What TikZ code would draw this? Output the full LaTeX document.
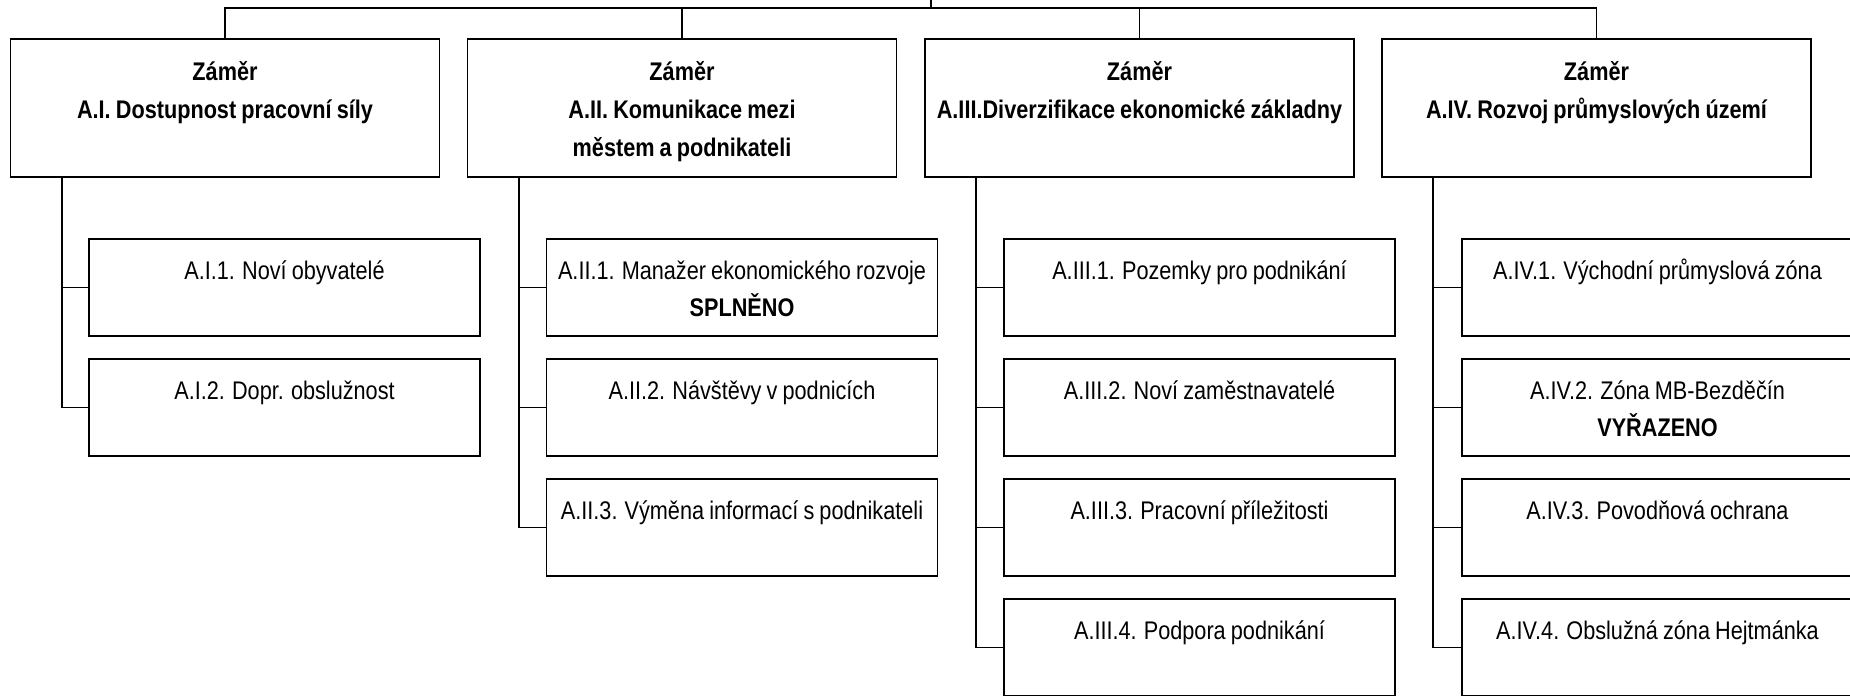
\documentclass[tikz,border=0pt]{standalone}
\usepackage{fontspec}
\setmainfont{Liberation Sans}[FakeStretch=0.85, WordSpace=0.85]
\newcommand{\hdrtext}[1]{\parbox[t][138pt][t]{429pt}{\centering\rule{0pt}{41pt}#1}}
\newcommand{\subtext}[1]{\parbox[t][97pt][t]{391pt}{\centering\rule{0pt}{40pt}#1}}
\tikzset{
  hdr/.style={draw, line width=1.8pt, inner sep=0pt, font=\fontsize{25.5pt}{38pt}\selectfont\bfseries},
  sub/.style={draw, line width=1.8pt, inner sep=0pt, font=\fontsize{25.5pt}{37pt}\selectfont},
  conn/.style={line width=1.8pt},
}
\begin{document}
\begin{tikzpicture}[x=1pt, y=-1pt]
\useasboundingbox (0,0) rectangle (1850,696);
% headers
\node[hdr] (h1) at (225,108) {\hdrtext{Záměr\\A.I. Dostupnost pracovní síly}};
\node[hdr] (h2) at (682,108) {\hdrtext{Záměr\\A.II. Komunikace mezi\\městem a podnikateli}};
\node[hdr] (h3) at (1139.5,108) {\hdrtext{Záměr\\A.III.Diverzifikace ekonomické základny}};
\node[hdr] (h4) at (1596.5,108) {\hdrtext{Záměr\\A.IV. Rozvoj průmyslových území}};
% column 1
\node[sub] (c11) at (284.5,287.5) {\subtext{A.I.1. Noví obyvatelé}};
\node[sub] (c12) at (284.5,407.5) {\subtext{A.I.2. Dopr. obslužnost}};
% column 2
\node[sub] (c21) at (742,287.5) {\subtext{A.II.1. Manažer ekonomického rozvoje\\\textbf{SPLNĚNO}}};
\node[sub] (c22) at (742,407.5) {\subtext{A.II.2. Návštěvy v podnicích}};
\node[sub] (c23) at (742,527.5) {\subtext{A.II.3. Výměna informací s podnikateli}};
% column 3
\node[sub] (c31) at (1199.5,287.5) {\subtext{A.III.1. Pozemky pro podnikání}};
\node[sub] (c32) at (1199.5,407.5) {\subtext{A.III.2. Noví zaměstnavatelé}};
\node[sub] (c33) at (1199.5,527.5) {\subtext{A.III.3. Pracovní příležitosti}};
\node[sub] (c34) at (1199.5,647.5) {\subtext{A.III.4. Podpora podnikání}};
% column 4
\node[sub] (c41) at (1657.5,287.5) {\subtext{A.IV.1. Východní průmyslová zóna}};
\node[sub] (c42) at (1657.5,407.5) {\subtext{A.IV.2. Zóna MB-Bezděčín\\\textbf{VYŘAZENO}}};
\node[sub] (c43) at (1657.5,527.5) {\subtext{A.IV.3. Povodňová ochrana}};
\node[sub] (c44) at (1657.5,647.5) {\subtext{A.IV.4. Obslužná zóna Hejtmánka}};
% top bus
\coordinate (root) at (931,0);
\coordinate (bus) at (931,8);
\draw[conn] (root) -- (bus);
\foreach \h in {h1,h2,h3,h4} \draw[conn] (\h.north) |- (bus);
% spines
\foreach \c in {c11,c12} \draw[conn] ([xshift=52pt]h1.south west) |- (\c.west);
\foreach \c in {c21,c22,c23} \draw[conn] ([xshift=52pt]h2.south west) |- (\c.west);
\foreach \c in {c31,c32,c33,c34} \draw[conn] ([xshift=52pt]h3.south west) |- (\c.west);
\foreach \c in {c41,c42,c43,c44} \draw[conn] ([xshift=52pt]h4.south west) |- (\c.west);
\end{tikzpicture}
\end{document}
